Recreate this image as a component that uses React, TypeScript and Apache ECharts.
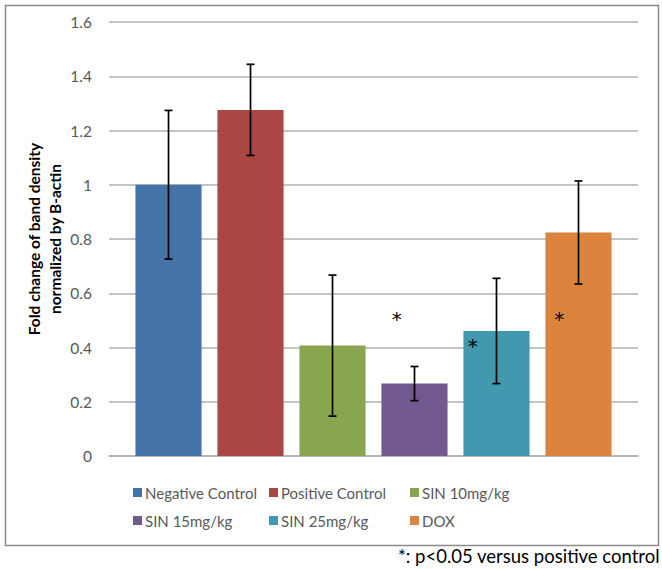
import React, { useEffect, useRef } from "react";
import * as echarts from "echarts";

const seriesNames = ["Negative Control", "Positive Control", "SIN 10mg/kg", "SIN 15mg/kg", "SIN 25mg/kg", "DOX"];
const means = [1.0, 1.276, 0.407, 0.267, 0.461, 0.824];
const errors = [0.274, 0.168, 0.26, 0.063, 0.194, 0.19];
const starValues = [NaN, NaN, NaN, 0.515, 0.415, 0.515];
const colors = ["#4572A7", "#AA4643", "#89A54E", "#71588F", "#4198AF", "#DB843D"];
const yTicks = [0, 0.2, 0.4, 0.6, 0.8, 1, 1.2, 1.4, 1.6];
const footnote = "*: p<0.05 versus positive control";
const yTitle = "Fold change of band density\nnormalized by B-actin";

const FONT = "Lato, 'Open Sans', sans-serif";
const CAT_GAP = 0.1;
const BAR_GAP = 0.24;
const STAR_SHIFT = [0, 0, 0, -0.27, -0.36, -0.29]; // fraction of bar width

export default function App() {
  const ref = useRef<HTMLDivElement>(null);
  useEffect(() => {
    const chart = echarts.init(ref.current!, null, { renderer: "svg" });
    const n = seriesNames.length;
    const barSeries = seriesNames.map((name, i) => ({
      type: "bar",
      name,
      data: [means[i]],
      itemStyle: { color: colors[i] },
      barGap: BAR_GAP * 100 + "%",
      barCategoryGap: CAT_GAP * 100 + "%",
      z: 2,
    }));
    const errData = seriesNames.map((_, i) => [0, means[i] - errors[i], means[i] + errors[i], i, starValues[i]]);
    const errSeries = {
      type: "custom",
      name: "err",
      data: errData,
      encode: { x: 0, y: [1, 2] },
      z: 5,
      renderItem: (params: any, api: any) => {
        const i = api.value(3);
        const low = api.coord([0, api.value(1)]);
        const high = api.coord([0, api.value(2)]);
        const bandW = api.size([1, 0])[0];
        const used = bandW * (1 - CAT_GAP);
        const barW = used / (n + (n - 1) * BAR_GAP);
        const cx = low[0] - used / 2 + i * barW * (1 + BAR_GAP) + barW / 2;
        const cap = 4;
        const st = { stroke: "#000", lineWidth: 1.7 };
        const children: any[] = [
          { type: "line", shape: { x1: cx, y1: low[1], x2: cx, y2: high[1] }, style: st },
          { type: "line", shape: { x1: cx - cap, y1: low[1], x2: cx + cap, y2: low[1] }, style: st },
          { type: "line", shape: { x1: cx - cap, y1: high[1], x2: cx + cap, y2: high[1] }, style: st },
        ];
        const sv = api.value(4);
        if (!isNaN(sv)) {
          const sp = api.coord([0, sv]);
          children.push({
            type: "text",
            style: {
              text: "*",
              x: cx + STAR_SHIFT[i] * barW,
              y: sp[1] + 3,
              align: "center",
              verticalAlign: "middle",
              fontSize: 20,
              fontFamily: "'DejaVu Sans', sans-serif",
              fill: "#000",
            },
          });
        }
        return { type: "group", children };
      },
    };
    const legendCols = [
      { left: 128, names: [seriesNames[0], seriesNames[3]] },
      { left: 264, names: [seriesNames[1], seriesNames[4]] },
      { left: 405, names: [seriesNames[2], seriesNames[5]] },
    ];
    chart.setOption({
      animation: false,
      color: colors,
      grid: { left: 109, right: 24, top: 22, bottom: 113 },
      xAxis: {
        type: "category",
        data: [""],
        axisTick: { show: false },
        axisLabel: { show: false },
        axisLine: { lineStyle: { color: "#B0B0B0", width: 1.5 } },
      },
      yAxis: {
        type: "value",
        min: yTicks[0],
        max: yTicks[yTicks.length - 1],
        interval: 0.2,
        axisLine: { show: false },
        axisTick: { show: false },
        splitLine: { lineStyle: { color: "#B0B0B0", width: 1.5 } },
        axisLabel: { color: "#595959", fontSize: 15.5, fontFamily: FONT, margin: 17 },
        name: yTitle,
        nameLocation: "middle",
        nameRotate: 90,
        nameGap: 44,
        nameMoveOverlap: false,
        nameTextStyle: { fontSize: 15.5, fontWeight: "bold", fontFamily: FONT, color: "#000", lineHeight: 21 },
      },
      legend: legendCols.map((c) => ({
        orient: "vertical",
        left: c.left,
        top: 480,
        itemGap: 13,
        itemWidth: 9,
        itemHeight: 9,
        icon: "rect",
        data: c.names,
        textStyle: { color: "#595959", fontSize: 15, fontFamily: FONT, padding: [0, 0, 0, -2] },
        selectedMode: false,
      })),
      graphic: [
        {
          type: "rect",
          left: 3,
          top: 3,
          shape: { width: 653, height: 540 },
          style: { fill: "none", stroke: "#8A8A8A", lineWidth: 1.5 },
          silent: true,
        },
        {
          type: "text",
          right: 2,
          top: 546,
          style: { text: footnote, fontSize: 18.5, fontFamily: FONT, fill: "#000" },
        },
      ],
      series: [...barSeries, errSeries],
    });
    return () => chart.dispose();
  }, []);
  return <div ref={ref} style={{ position: "fixed", left: 0, top: 0, width: 662, height: 569, background: "#fff" }} />;
}
